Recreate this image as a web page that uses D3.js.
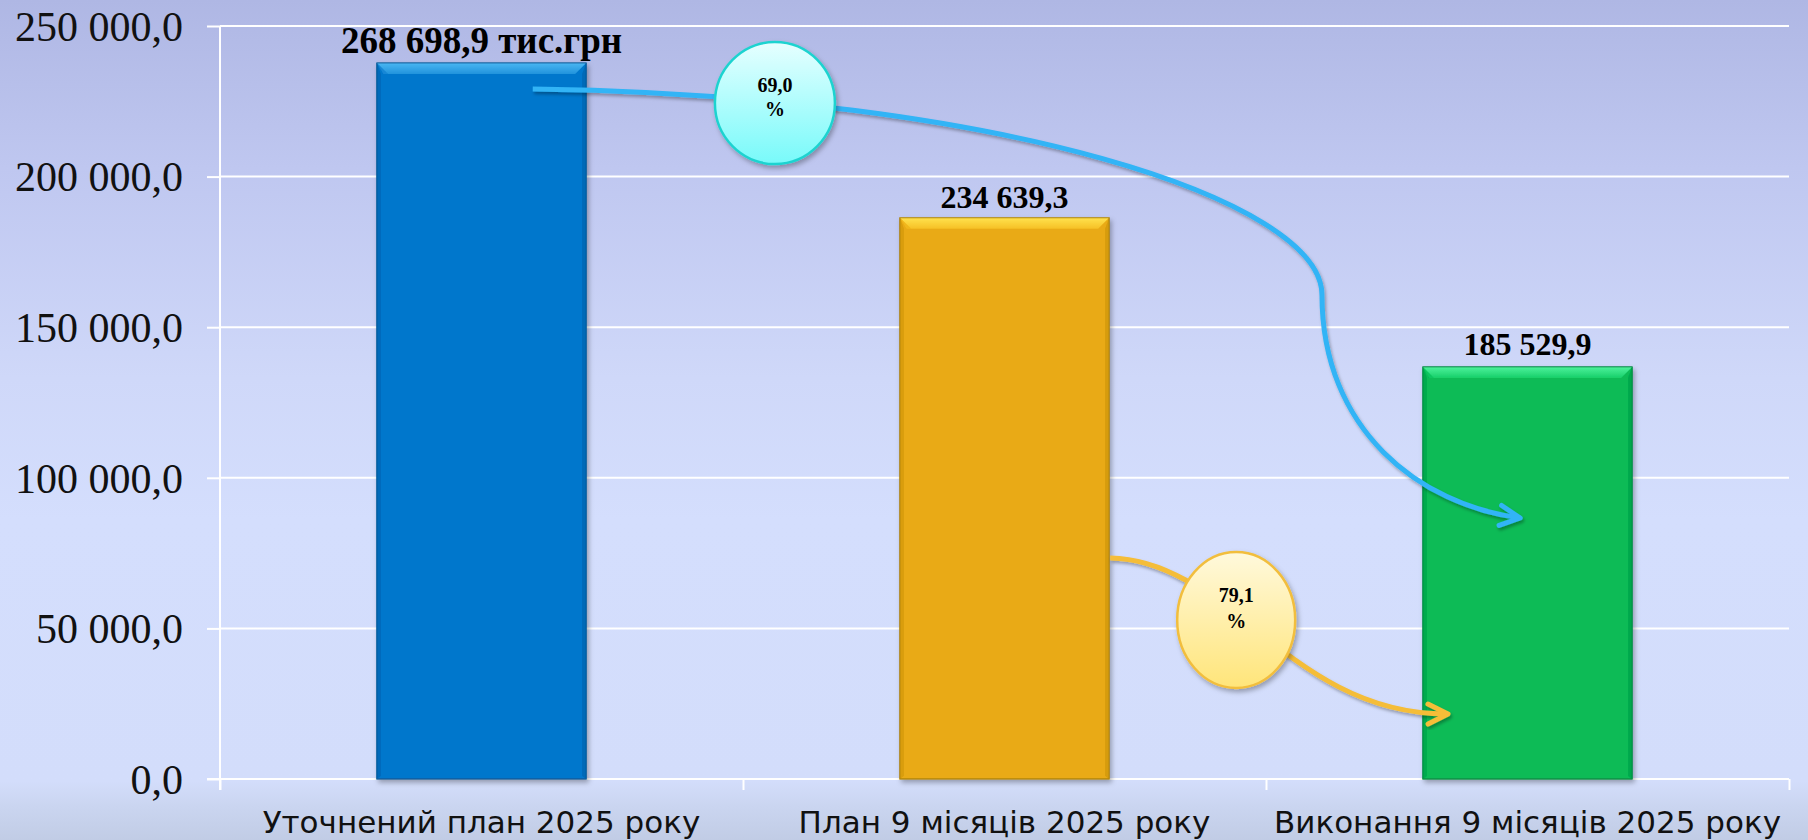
<!DOCTYPE html>
<html>
<head>
<meta charset="utf-8">
<script src="https://cdn.jsdelivr.net/npm/d3@7"></script>
<style>
  html, body { margin: 0; padding: 0; }
  body { width: 1808px; height: 840px; overflow: hidden; }
  svg { display: block; }
</style>
</head>
<body>
<svg id="chart" width="1808" height="840"></svg>
<script>
// ---- data ----
const categories = ["Уточнений план 2025 року", "План 9 місяців 2025 року", "Виконання 9 місяців 2025 року"];
const barValues = [237700, 186300, 136800];
const barLabels = ["268 698,9 тис.грн", "234 639,3", "185 529,9"];
const yTickValues = [0, 50000, 100000, 150000, 200000, 250000];
const percentLabels = ["69,0", "79,1"];

// annotation geometry in data space: [category position (0..3), value]
const bluePath = [[0.598, 229100], [1.491, 227100], [2.107, 192200], [2.107, 160700],
                  [2.107, 115900], [2.294, 91000], [2.486, 86650]];
const yellowPath = [[1.702, 73400], [1.931, 72700], [2.046, 21250], [2.348, 21600]];
const blueBadge = [1.061, 224400];
const yellowBadge = [1.943, 52800];

// ---- layout ----
const W = 1808, H = 840;
const mLeft = 220, mRight = 1789, mTop = 26, mBottom = 779;
const svg = d3.select("#chart");

const x = d3.scaleBand().domain(categories).range([mLeft, mRight]).paddingInner(0.6).paddingOuter(0.3);
const pos = d3.scaleLinear().domain([0, categories.length]).range([mLeft, mRight]);
const y = d3.scaleLinear().domain([0, 250000]).range([mBottom, mTop]);

const loc = d3.formatLocale({decimal: ",", thousands: " ", grouping: [3], currency: ["", ""]});
const fmt = loc.format(",.1f");

const defs = svg.append("defs");
const bg = defs.append("linearGradient").attr("id", "bg").attr("x1", 0).attr("y1", 0).attr("x2", 0).attr("y2", 1);
[[0, "#afb7e4"], [0.2, "#bfc7f0"], [0.45, "#cfd8f9"], [0.62, "#d4defd"], [0.93, "#d3ddfb"], [0.96, "#cad5f0"], [1, "#c1cce5"]]
  .forEach(([o, c]) => bg.append("stop").attr("offset", o).attr("stop-color", c));

const shadow = defs.append("filter").attr("id", "shadow").attr("x", "-20%").attr("y", "-20%").attr("width", "140%").attr("height", "140%");
shadow.append("feDropShadow").attr("dx", 2).attr("dy", 3).attr("stdDeviation", 2.5).attr("flood-color", "#000").attr("flood-opacity", 0.3);
const lshadow = defs.append("filter").attr("id", "lshadow").attr("x", "-10%").attr("y", "-10%").attr("width", "120%").attr("height", "120%");
lshadow.append("feDropShadow").attr("dx", 1.5).attr("dy", 2.5).attr("stdDeviation", 1.5).attr("flood-color", "#000").attr("flood-opacity", 0.3);

const barStyles = [
  {main: "#0677cc", top1: "#4ab6f2", top2: "#2193dc", side: "#0568b5", rim: "#0b5a98"},
  {main: "#e9aa13", top1: "#ffe24e", top2: "#f6c024", side: "#d49a10", rim: "#a9800e"},
  {main: "#07bb57", top1: "#4cf29c", top2: "#18cf69", side: "#05a64b", rim: "#0a8a43"}
];
barStyles.forEach((s, i) => {
  const g = defs.append("linearGradient").attr("id", "top" + i).attr("x1", 0).attr("y1", 0).attr("x2", 0).attr("y2", 1);
  g.append("stop").attr("offset", 0).attr("stop-color", s.top1);
  g.append("stop").attr("offset", 1).attr("stop-color", s.top2);
});
const cg = defs.append("linearGradient").attr("id", "cyanFill").attr("x1", 0).attr("y1", 0).attr("x2", 0).attr("y2", 1);
cg.append("stop").attr("offset", 0).attr("stop-color", "#e6ffff");
cg.append("stop").attr("offset", 1).attr("stop-color", "#78fafa");
const yg = defs.append("linearGradient").attr("id", "yellowFill").attr("x1", 0).attr("y1", 0).attr("x2", 0).attr("y2", 1);
yg.append("stop").attr("offset", 0).attr("stop-color", "#fff9dc");
yg.append("stop").attr("offset", 1).attr("stop-color", "#ffe57a");

function marker(id, color) {
  defs.append("marker").attr("id", id).attr("viewBox", "-30 -20 40 40")
    .attr("refX", 0).attr("refY", 0).attr("markerWidth", 40).attr("markerHeight", 40)
    .attr("markerUnits", "userSpaceOnUse").attr("orient", "auto").style("overflow", "visible")
    .append("path").attr("d", "M-20,-10 L0,0 L-20,10").attr("fill", "none")
    .attr("stroke", color).attr("stroke-width", 5).attr("stroke-linecap", "round").attr("stroke-linejoin", "round");
}
marker("arrowBlue", "#31b4f6");
marker("arrowYellow", "#f5bd38");

svg.append("rect").attr("width", W).attr("height", H).attr("fill", "url(#bg)");

// gridlines
svg.append("g").selectAll("line").data(yTickValues).join("line")
  .attr("x1", mLeft).attr("x2", mRight).attr("y1", d => y(d)).attr("y2", d => y(d))
  .attr("stroke", "#ffffff").attr("stroke-width", 2);

// y axis
const yAxis = svg.append("g").attr("transform", `translate(${mLeft},0)`)
  .call(d3.axisLeft(y).tickValues(yTickValues).tickFormat(fmt).tickSize(13).tickPadding(24));
yAxis.select(".domain").attr("stroke", "#fff").attr("stroke-width", 2).attr("d", `M0,${mTop}V${mBottom + 11}`);
yAxis.selectAll(".tick line").attr("stroke", "#fff").attr("stroke-width", 2);
yAxis.selectAll(".tick text").attr("fill", "#111").style("font-family", "'Liberation Serif', 'Times New Roman', serif")
  .style("font-size", "42px").attr("dy", "0.34em");

// x axis (boundary ticks)
const xTicks = svg.append("g").attr("transform", `translate(0,${mBottom})`)
  .call(d3.axisBottom(pos).tickValues(d3.range(categories.length + 1)).tickFormat("").tickSize(11));
xTicks.select(".domain").attr("stroke", "#fff").attr("stroke-width", 2).attr("d", `M${mLeft - 13},0H${mRight}`);
xTicks.selectAll(".tick line").attr("stroke", "#fff").attr("stroke-width", 2);

// category labels
const xAxis = svg.append("g").attr("transform", `translate(0,${mBottom})`)
  .call(d3.axisBottom(x).tickSize(0).tickPadding(0));
xAxis.select(".domain").remove();
xAxis.selectAll(".tick text").attr("fill", "#111").attr("y", 54).attr("dy", 0)
  .style("font-family", "'DejaVu Sans', Verdana, sans-serif").style("font-size", "31px");

// bars
const bw = x.bandwidth();
const bev = 11;
const bars = svg.append("g").selectAll("g").data(categories).join("g").attr("filter", "url(#shadow)");
bars.each(function (c, i) {
  const g = d3.select(this);
  const s = barStyles[i];
  const x0 = x(c), x1 = x0 + bw, y0 = y(barValues[i]), y1 = y(0);
  g.append("rect").attr("x", x0).attr("y", y0).attr("width", bw).attr("height", y1 - y0)
    .attr("fill", s.main).attr("stroke", s.rim).attr("stroke-width", 1);
  g.append("polygon").attr("points", [[x0, y0], [x0 + 4, y0 + bev], [x0 + 4, y1 - 3], [x0, y1]].join(" "))
    .attr("fill", s.side).attr("opacity", 0.8);
  g.append("polygon").attr("points", [[x1, y0], [x1 - 4, y0 + bev], [x1 - 4, y1 - 3], [x1, y1]].join(" "))
    .attr("fill", s.side).attr("opacity", 0.9);
  g.append("polygon").attr("points", [[x0, y0], [x1, y0], [x1 - bev, y0 + bev], [x0 + bev, y0 + bev]].join(" "))
    .attr("fill", `url(#top${i})`);
  g.append("polygon").attr("points", [[x0, y0], [x0 + bev, y0 + bev], [x0 + bev * 0.6, y0 + bev]].join(" "))
    .attr("fill", s.top2).attr("opacity", 0.6);
  g.append("rect").attr("x", x0).attr("y", y0).attr("width", bw).attr("height", y1 - y0)
    .attr("fill", "none").attr("stroke", s.rim).attr("stroke-width", 1).attr("opacity", 0.7);
});

// bar labels
svg.append("g").selectAll("text").data(categories).join("text")
  .attr("x", c => x(c) + bw / 2)
  .attr("y", (c, i) => y(barValues[i]) - (i === 2 ? 12 : 10))
  .attr("text-anchor", "middle").attr("fill", "#000")
  .style("font-family", "'Liberation Serif', 'Times New Roman', serif").style("font-weight", "bold")
  .style("font-size", (c, i) => i === 0 ? "37px" : "32px")
  .text((c, i) => barLabels[i]);

// connectors
const P = d => [pos(d[0]), y(d[1])];
function cubicPath(pts) {
  const p = pts.map(P);
  let d = `M${p[0][0]},${p[0][1]}`;
  for (let k = 1; k + 2 < p.length; k += 3) d += `C${p[k]} ${p[k + 1]} ${p[k + 2]}`;
  return d;
}
svg.append("path").attr("d", cubicPath(bluePath)).attr("fill", "none").attr("stroke", "#31b4f6")
  .attr("stroke-width", 5).attr("stroke-linecap", "butt").attr("marker-end", "url(#arrowBlue)").attr("filter", "url(#lshadow)");
svg.append("path").attr("d", cubicPath(yellowPath)).attr("fill", "none").attr("stroke", "#f5bd38")
  .attr("stroke-width", 5).attr("stroke-linecap", "butt").attr("marker-end", "url(#arrowYellow)").attr("filter", "url(#lshadow)");

// badges
const bp = P(blueBadge);
svg.append("ellipse").attr("cx", bp[0]).attr("cy", bp[1]).attr("rx", 60).attr("ry", 61)
  .attr("fill", "url(#cyanFill)").attr("stroke", "#1fd3d0").attr("stroke-width", 2.5).attr("filter", "url(#shadow)");
const yp = P(yellowBadge);
svg.append("ellipse").attr("cx", yp[0]).attr("cy", yp[1]).attr("rx", 59).attr("ry", 68)
  .attr("fill", "url(#yellowFill)").attr("stroke", "#f2be3e").attr("stroke-width", 2.5).attr("filter", "url(#shadow)");

const badgeText = [
  {p: bp, lines: [percentLabels[0], "%"], dy: [-11, 13]},
  {p: yp, lines: [percentLabels[1], "%"], dy: [-18, 8]}
];
badgeText.forEach(b => {
  b.lines.forEach((t, k) => {
    svg.append("text").attr("x", b.p[0]).attr("y", b.p[1] + b.dy[k]).attr("text-anchor", "middle")
      .attr("fill", "#000").style("font-family", "'Liberation Serif', 'Times New Roman', serif")
      .style("font-weight", "bold").style("font-size", "20px").text(t);
  });
});
</script>
</body>
</html>
